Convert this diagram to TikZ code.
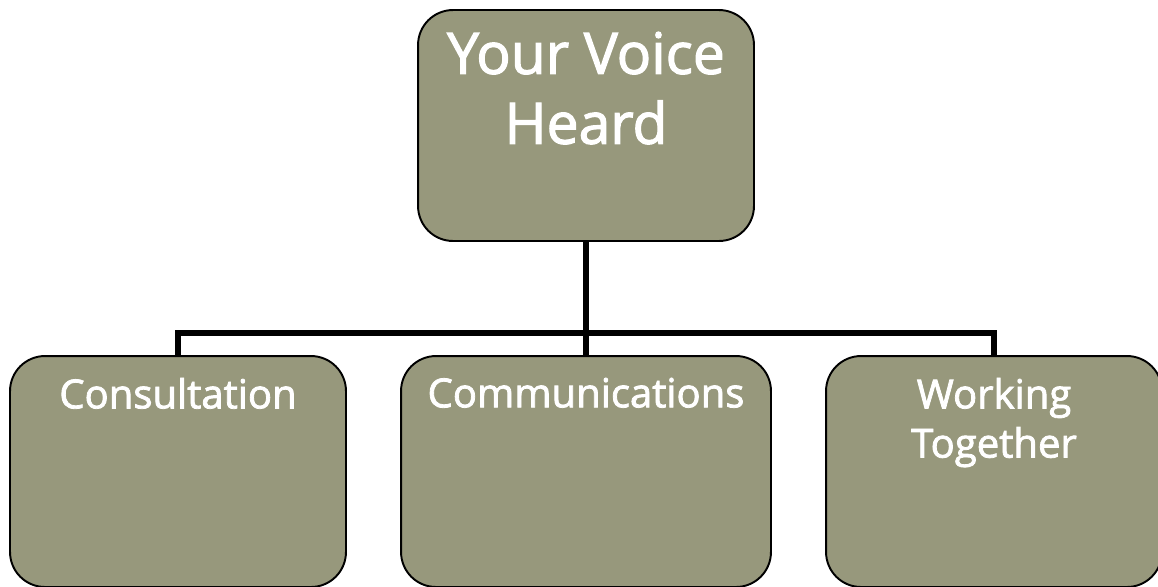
\documentclass[tikz,border=0pt]{standalone}
\usepackage{fontspec}
\setmainfont{Open Sans}[FakeBold=2]
\usetikzlibrary{positioning}
\definecolor{boxfill}{RGB}{151,152,124}

\begin{document}
\begin{tikzpicture}[x=0.02cm,y=-0.02cm,
	box/.style={draw=black,line width=1.1pt,fill=boxfill,rounded corners=0.7cm,inner sep=0pt},
	lbl/.style={text=white,align=center,inner sep=0pt,anchor=north},
	link/.style={line width=3.8pt}]
			\useasboundingbox (0,0) rectangle (1158,586);
			\node[box,minimum width=6.72cm,minimum height=4.62cm,
				label={[lbl,yshift=-0.45cm,font=\fontsize{32.5}{39.8}\selectfont]north:Your Voice\\Heard}] (voice) at (586,125.5) {};
			\foreach \n/\x/\w/\t in {cons/178/6.72/Consultation, comm/586/7.4/Communications, work/994/6.72/Working\\Together}
			\node[box,minimum width=\w cm,minimum height=4.62cm,
				label={[lbl,yshift=-0.45cm,font=\fontsize{22.8}{28}\selectfont]north:\t}] (\n) at (\x,471.5) {};
			\coordinate (bus) at (586,333);
			\draw[link] (voice.south) -- (bus);
			\draw[link] (cons.north) |- (bus) -| (work.north);
			\draw[link] (comm.north) -- (bus);
		\end{tikzpicture}
\end{document}
